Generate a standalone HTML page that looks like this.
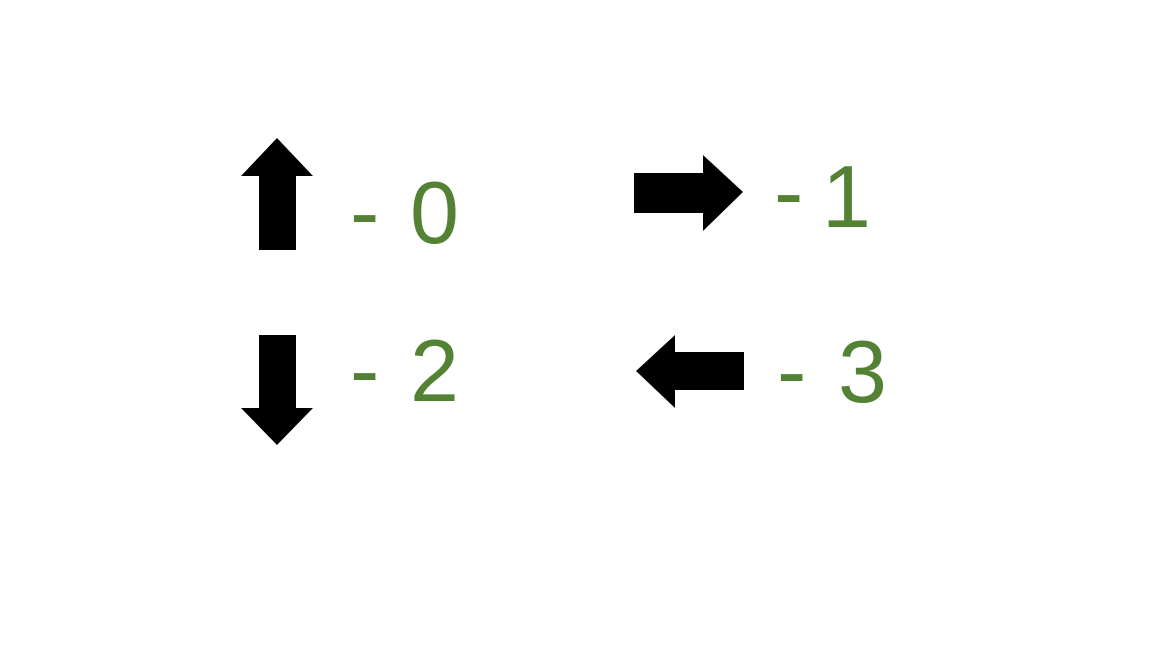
<!DOCTYPE html>
<html><head><meta charset="utf-8"><style>
html,body{margin:0;padding:0;background:#fff;width:1152px;height:648px;overflow:hidden}
svg{display:block}
text{font-family:"Liberation Sans",sans-serif;fill:#548235;font-size:88px}
</style></head><body>
<svg width="1152" height="648" viewBox="0 0 1152 648">
<rect width="1152" height="648" fill="#fff"/>
<g>
<polygon fill="#000" points="277,138 313,176 296,176 296,250 259,250 259,176 241,176"/>
<text x="350" y="242">-</text>
<text x="410" y="243">0</text>
</g>
<g>
<polygon fill="#000" points="634,173 703,173 703,155 743,192 703,231 703,213 634,213"/>
<text x="774" y="222">-</text>
<text x="822" y="227">1</text>
</g>
<g>
<polygon fill="#000" points="259,335 296,335 296,408 313,408 277,445 241,408 259,408"/>
<text x="350" y="400">-</text>
<text x="410" y="401">2</text>
</g>
<g>
<polygon fill="#000" points="744,352 744,390 675,390 675,408 636,371 675,335 675,352"/>
<text x="777" y="401">-</text>
<text x="838" y="402">3</text>
</g>
</svg>
</body></html>
